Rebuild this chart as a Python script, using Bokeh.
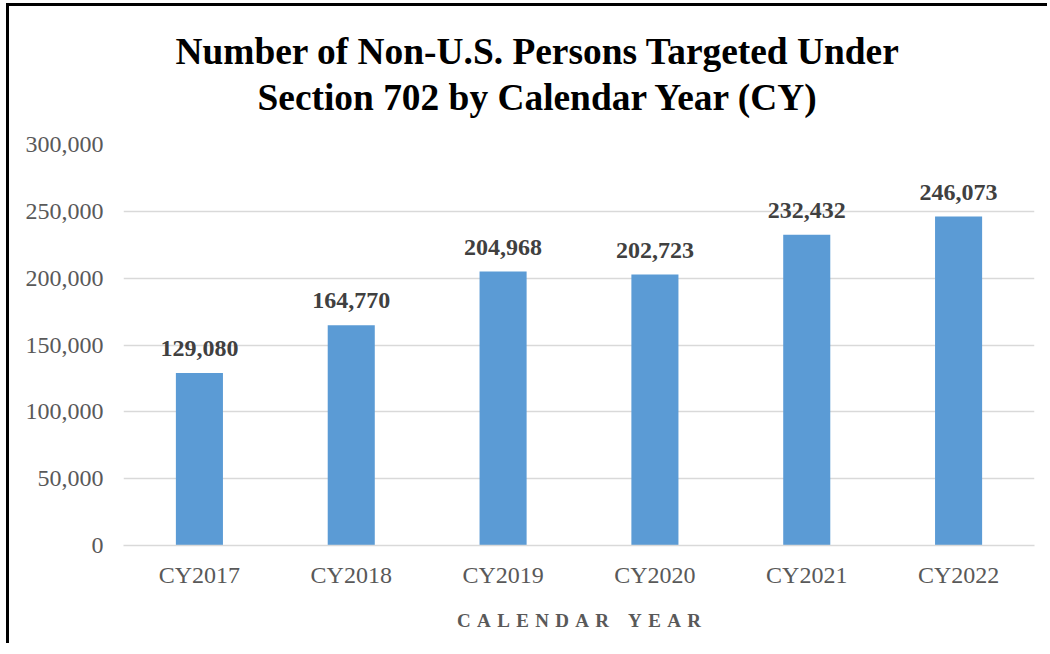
from bokeh.plotting import figure
from bokeh.models import (ColumnDataSource, FactorRange, Range1d, FixedTicker,
                          NumeralTickFormatter, LabelSet, Title)
from bokeh.embed import file_html
from bokeh.resources import INLINE

# ---- data ----
categories = ["CY2017", "CY2018", "CY2019", "CY2020", "CY2021", "CY2022"]
targets = [129080, 164770, 204968, 202723, 232432, 246073]
y_ticks = [0, 50000, 100000, 150000, 200000, 250000, 300000]
title_lines = ["Number of Non-U.S. Persons Targeted Under",
               "Section 702 by Calendar Year (CY)"]
x_title = "CALENDAR YEAR"

SERIF = "Liberation Serif"
GREY = "#595959"

src = ColumnDataSource(dict(cat=categories, val=targets,
                            lab=[f"{v:,}" for v in targets]))

p = figure(width=1041, height=640, x_range=FactorRange(*categories, range_padding=0),
           y_range=Range1d(0, 300000), output_backend="svg", toolbar_location=None,
           min_border_left=114, min_border_right=16, min_border_top=138,
           min_border_bottom=101)
p.styles = {"border-left": "3px solid #000000", "border-top": "3px solid #000000",
            "margin-left": "6px", "margin-top": "3px"}
p.outline_line_color = None
p.background_fill_color = "white"
p.border_fill_color = "white"

p.vbar(x="cat", top="val", width=0.31, source=src, fill_color="#5B9BD5",
       line_color=None)

labels = LabelSet(x="cat", y="val", text="lab", source=src, text_align="center",
                  text_baseline="alphabetic", y_offset=17, text_font=SERIF,
                  text_font_size="24px", text_font_style="bold", text_color="#404040")
p.add_layout(labels)

# axes
p.yaxis.ticker = FixedTicker(ticks=y_ticks)
p.yaxis.formatter = NumeralTickFormatter(format="0,0")
p.yaxis.axis_line_color = None
p.yaxis.major_tick_line_color = None
p.yaxis.minor_tick_line_color = None
p.yaxis.major_label_standoff = 14
p.yaxis.major_label_text_font = SERIF
p.yaxis.major_label_text_font_size = "24px"
p.yaxis.major_label_text_color = GREY

p.xaxis.axis_line_color = "#D9D9D9"
p.xaxis.axis_line_width = 1.5
p.xaxis.major_tick_line_color = None
p.xaxis.minor_tick_line_color = None
p.xaxis.major_label_standoff = 10
p.xaxis.major_label_text_font = SERIF
p.xaxis.major_label_text_font_size = "24px"
p.xaxis.major_label_text_color = GREY
sp = "\u2004"
p.xaxis.axis_label = (sp * 3).join(sp.join(w) for w in x_title.split(" "))
p.xaxis.axis_label_text_font = SERIF
p.xaxis.axis_label_text_font_size = "19px"
p.xaxis.axis_label_text_font_style = "bold"
p.xaxis.axis_label_text_color = GREY
p.xaxis.axis_label_standoff = 19

p.xgrid.grid_line_color = None
p.ygrid.grid_line_color = "#D9D9D9"
p.ygrid.grid_line_width = 1.5

# title: two lines (second line closest to the plot is added first)
for txt, off, so in [(title_lines[1], 134, 54), (title_lines[0], 52, -48)]:
    p.add_layout(Title(text=txt, align="left", offset=off, standoff=so,
                       text_font=SERIF, text_font_size="37.4px",
                       text_font_style="bold", text_color="black"), "above")

open("out.html", "w").write(file_html(p, INLINE))
